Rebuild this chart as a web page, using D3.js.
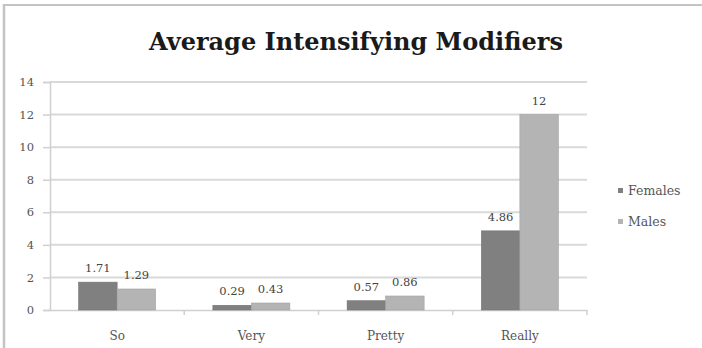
<!DOCTYPE html>
<html><head><meta charset="utf-8">
<script src="https://cdn.jsdelivr.net/npm/d3@7"></script>
<style>body{margin:0;background:#fff}svg{display:block}</style>
</head><body>
<svg id="c" width="702" height="348"></svg>
<script>
const categories = ["So", "Very", "Pretty", "Really"];
const seriesNames = ["Females", "Males"];
const females = [1.71, 0.29, 0.57, 4.86];
const males = [1.29, 0.43, 0.86, 12];
const valueLabels = [["1.71","0.29","0.57","4.86"],["1.29","0.43","0.86","12"]];
const yTicks = [0, 2, 4, 6, 8, 10, 12, 14];
const colors = ["#808080", "#b4b4b4"];

const svg = d3.select("#c");
const font = "'DejaVu Serif', 'Liberation Serif', serif";
// frame
svg.append("rect").attr("x",0).attr("y",0).attr("width",702).attr("height",348).attr("fill","#fff");
svg.append("line").attr("x1",3).attr("x2",702).attr("y1",5).attr("y2",5).attr("stroke","#c4c4c4").attr("stroke-width",2);
svg.append("line").attr("x1",4).attr("x2",4).attr("y1",4).attr("y2",348).attr("stroke","#c4c4c4").attr("stroke-width",2.5);

const x0 = 50, x1 = 587, yTop = 82, yBot = 310;
const x = d3.scaleBand().domain(categories).range([x0, x1]).paddingInner(0).paddingOuter(0);
const y = d3.scaleLinear().domain([0, 14]).range([yBot, yTop]);
const bw = 38.5;

svg.append("text").attr("x", 356).attr("y", 50).attr("text-anchor","middle")
  .attr("font-family", font).attr("font-weight","bold").attr("font-size", 24).attr("fill","#1a1a1a")
  .text("Average Intensifying Modifiers");

// gridlines
svg.append("g").selectAll("line").data(yTicks.filter(d=>d>0)).join("line")
  .attr("x1", x0).attr("x2", x1).attr("y1", d=>y(d)).attr("y2", d=>y(d))
  .attr("stroke","#d9d9d9").attr("stroke-width",2);

// y axis
const yAxis = d3.axisLeft(y).tickValues(yTicks).tickSize(7).tickPadding(9);
const gy = svg.append("g").attr("transform",`translate(${x0},0)`).call(yAxis);
gy.select(".domain").attr("stroke","#d0d0d0").attr("stroke-width",1.5);
gy.selectAll(".tick line").attr("stroke","#d0d0d0").attr("stroke-width",1.5);
gy.selectAll("text").attr("font-family",font).attr("font-size",11.5).attr("fill","#555");

// x axis
const xAxis = d3.axisBottom(x).tickSize(0).tickPadding(21);
const gx = svg.append("g").attr("transform",`translate(0,${yBot})`).call(xAxis);
gx.select(".domain").attr("stroke","#d0d0d0").attr("stroke-width",1.5);
gx.selectAll("text").attr("font-family",font).attr("font-size",12).attr("fill","#555");
// category separators ticks
svg.append("g").selectAll("line").data(categories.slice(1).concat(["__end"])).join("line")
  .attr("x1", d=> d==="__end" ? x1 : x(d)).attr("x2", d=> d==="__end" ? x1 : x(d))
  .attr("y1", yBot).attr("y2", yBot+5).attr("stroke","#d0d0d0").attr("stroke-width",1.5);

const series = [females, males];
series.forEach((vals, si) => {
  const g = svg.append("g");
  g.selectAll("rect").data(vals).join("rect")
    .attr("x", (d,i)=> x(categories[i]) + x.bandwidth()/2 - bw + si*bw)
    .attr("width", bw)
    .attr("y", d=>y(d)).attr("height", d=>yBot - y(d))
    .attr("fill", colors[si]).attr("stroke", d3.color(colors[si]).darker(0.3)).attr("stroke-width",0.6);
  g.selectAll("text").data(vals).join("text")
    .attr("x", (d,i)=> x(categories[i]) + x.bandwidth()/2 - bw/2 + si*bw)
    .attr("y", d=>y(d) - 10).attr("text-anchor","middle")
    .attr("font-family",font).attr("font-size",11.5).attr("fill","#444")
    .text((d,i)=>valueLabels[si][i]);
});

// legend
const lg = svg.append("g");
seriesNames.forEach((n, i) => {
  const ly = 191 + i*31;
  lg.append("rect").attr("x",618).attr("y",ly-3).attr("width",5).attr("height",5).attr("fill",colors[i]);
  lg.append("text").attr("x",628).attr("y",ly+4).attr("font-family",font).attr("font-size",12.5).attr("fill","#555").text(n);
});
</script>
</body></html>
